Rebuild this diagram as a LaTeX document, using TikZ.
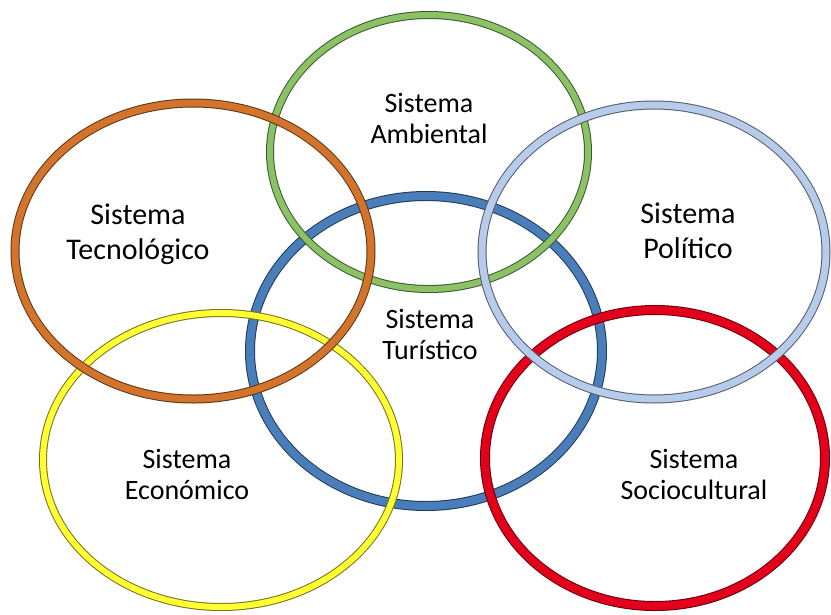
\documentclass[tikz,border=0pt]{standalone}
\usepackage{fontspec}
\setmainfont{Carlito}
\definecolor{turistico}{HTML}{4A7EBB}
\definecolor{ambiental}{HTML}{8CC266}
\definecolor{tecnologico}{HTML}{D2742C}
\definecolor{politico}{HTML}{B7CCEA}
\definecolor{economico}{HTML}{FFFF33}
\definecolor{sociocultural}{HTML}{E2001A}
\begin{document}
\begin{tikzpicture}[x=1pt,y=-1pt,
  ring/.style={draw=#1!45!black, line width=1pt, double=#1},
  sistema/.style={align=center, inner sep=0pt, font=\fontsize{28}{31}\selectfont},
  grande/.style={font=\fontsize{30}{35}\selectfont}]
  \useasboundingbox (0,0) rectangle (831,614);

  \draw[ring=turistico, double distance=8pt] (426,351) ellipse [x radius=176pt, y radius=155pt];
  \draw[ring=ambiental, double distance=6pt] (429,152) ellipse [x radius=159pt, y radius=137pt];
  \draw[ring=economico, double distance=6pt] (221,460) ellipse [x radius=178pt, y radius=147pt];
  \draw[ring=tecnologico, double distance=7pt] (193,251) ellipse [x radius=178pt, y radius=148pt];
  \draw[ring=sociocultural, double distance=8pt] (655,458) ellipse [x radius=170pt, y radius=148pt];
  \draw[ring=politico, double distance=7pt] (654,252) ellipse [x radius=172pt, y radius=147pt];

  \node[sistema] (ambiental) at (429,118) {Sistema\\Ambiental};
  \node[sistema,grande] (tecnologico) at (138,234) {Sistema\\Tecnológico};
  \node[sistema,grande] (politico) at (688,231) {Sistema\\Político};
  \node[sistema] (turistico) at (430,334) {Sistema\\Turístico};
  \node[sistema] (economico) at (187,474) {Sistema\\Económico};
  \node[sistema] (sociocultural) at (694,474) {Sistema\\Sociocultural};

\end{tikzpicture}
\end{document}
